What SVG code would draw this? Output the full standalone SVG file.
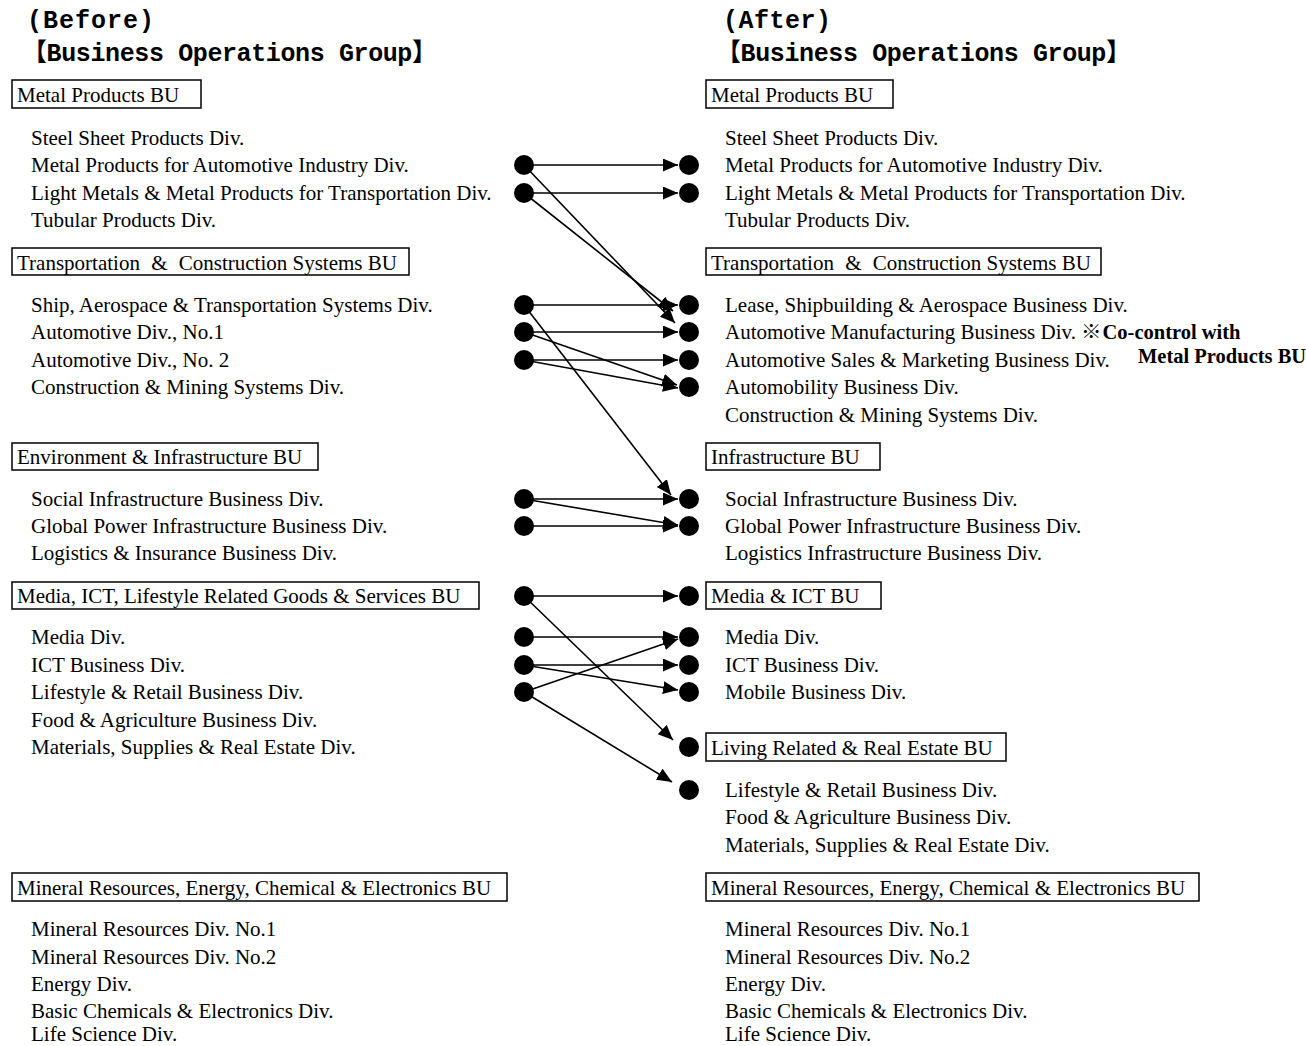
<svg xmlns="http://www.w3.org/2000/svg" width="1306" height="1046" viewBox="0 0 1306 1046">
<defs>
<style>
.hd{font-family:"Liberation Mono","Noto Sans CJK JP",monospace;font-weight:bold;font-size:25px;fill:#000}
.t{font-family:"Liberation Serif","Noto Sans CJK JP",serif;font-size:21px;fill:#000}
.b{font-family:"Liberation Serif","Noto Sans CJK JP",serif;font-size:20.5px;font-weight:bold;fill:#000}
.bx{fill:#fff;stroke:#000;stroke-width:1.5}
.dot{fill:#000}
.ln{stroke:#000;stroke-width:1.6;fill:none;marker-end:url(#ah)}
</style>
<marker id="ah" markerUnits="userSpaceOnUse" markerWidth="16" markerHeight="14" refX="15" refY="6.5" orient="auto">
<path d="M0,0 L15,6.5 L0,13 z" fill="#000"/>
</marker>
</defs>
<rect width="1306" height="1046" fill="#fff"/>

<g id="before-header">
<text class="hd" x="27" y="28" textLength="127" lengthAdjust="spacing">(Before)</text>
<text class="hd" x="22" y="61" textLength="415" lengthAdjust="spacing">【Business Operations Group】</text>
</g>
<g id="after-header">
<text class="hd" x="723" y="28" textLength="108" lengthAdjust="spacing">(After)</text>
<text class="hd" x="716" y="61" textLength="415" lengthAdjust="spacing">【Business Operations Group】</text>
</g>

<g id="before-metal">
<rect class="bx" x="12" y="80" width="189" height="28"/>
<text class="t" x="17" y="102">Metal Products BU</text>
<text class="t" x="31" y="145">Steel Sheet Products Div.</text>
<text class="t" x="31" y="172">Metal Products for Automotive Industry Div.</text>
<text class="t" x="31" y="200">Light Metals &amp; Metal Products for Transportation Div.</text>
<text class="t" x="31" y="227">Tubular Products Div.</text>
</g>
<g id="before-transport">
<rect class="bx" x="12" y="248" width="397" height="27"/>
<text class="t" x="17" y="270">Transportation <tspan dx="6">&amp;</tspan><tspan dx="6"> Construction Systems BU</tspan></text>
<text class="t" x="31" y="312">Ship, Aerospace &amp; Transportation Systems Div.</text>
<text class="t" x="31" y="339">Automotive Div., No.1</text>
<text class="t" x="31" y="367">Automotive Div., No. 2</text>
<text class="t" x="31" y="394">Construction &amp; Mining Systems Div.</text>
</g>
<g id="before-env">
<rect class="bx" x="12" y="443" width="306" height="27"/>
<text class="t" x="17" y="464">Environment &amp; Infrastructure BU</text>
<text class="t" x="31" y="506">Social Infrastructure Business Div.</text>
<text class="t" x="31" y="533">Global Power Infrastructure Business Div.</text>
<text class="t" x="31" y="560">Logistics &amp; Insurance Business Div.</text>
</g>
<g id="before-media">
<rect class="bx" x="12" y="582" width="467" height="27"/>
<text class="t" x="17" y="603">Media, ICT, Lifestyle Related Goods &amp; Services BU</text>
<text class="t" x="31" y="644">Media Div.</text>
<text class="t" x="31" y="672">ICT Business Div.</text>
<text class="t" x="31" y="699">Lifestyle &amp; Retail Business Div.</text>
<text class="t" x="31" y="727">Food &amp; Agriculture Business Div.</text>
<text class="t" x="31" y="754">Materials, Supplies &amp; Real Estate Div.</text>
</g>
<g id="before-mineral">
<rect class="bx" x="12" y="873" width="495" height="28"/>
<text class="t" x="17" y="895">Mineral Resources, Energy, Chemical &amp; Electronics BU</text>
<text class="t" x="31" y="936">Mineral Resources Div. No.1</text>
<text class="t" x="31" y="964">Mineral Resources Div. No.2</text>
<text class="t" x="31" y="991">Energy Div.</text>
<text class="t" x="31" y="1018">Basic Chemicals &amp; Electronics Div.</text>
<text class="t" x="31" y="1041">Life Science Div.</text>
</g>

<g id="after-metal">
<rect class="bx" x="706" y="80" width="187" height="28"/>
<text class="t" x="711" y="102">Metal Products BU</text>
<text class="t" x="725" y="145">Steel Sheet Products Div.</text>
<text class="t" x="725" y="172">Metal Products for Automotive Industry Div.</text>
<text class="t" x="725" y="200">Light Metals &amp; Metal Products for Transportation Div.</text>
<text class="t" x="725" y="227">Tubular Products Div.</text>
</g>
<g id="after-transport">
<rect class="bx" x="706" y="248" width="395" height="27"/>
<text class="t" x="711" y="270">Transportation <tspan dx="6">&amp;</tspan><tspan dx="6"> Construction Systems BU</tspan></text>
<text class="t" x="725" y="312">Lease, Shipbuilding &amp; Aerospace Business Div.</text>
<text class="t" x="725" y="339">Automotive Manufacturing Business Div.</text>
<text class="t" x="725" y="367">Automotive Sales &amp; Marketing Business Div.</text>
<text class="t" x="725" y="394">Automobility Business Div.</text>
<text class="t" x="725" y="422">Construction &amp; Mining Systems Div.</text>
</g>
<g id="co-control-note">
<text class="b" x="1081" y="339">※<tspan dx="1">Co-control with</tspan></text>
<text class="b" x="1138" y="363">Metal Products BU</text>
</g>
<g id="after-infra">
<rect class="bx" x="706" y="443" width="174" height="27"/>
<text class="t" x="711" y="464">Infrastructure BU</text>
<text class="t" x="725" y="506">Social Infrastructure Business Div.</text>
<text class="t" x="725" y="533">Global Power Infrastructure Business Div.</text>
<text class="t" x="725" y="560">Logistics Infrastructure Business Div.</text>
</g>
<g id="after-media">
<rect class="bx" x="706" y="582" width="175" height="27"/>
<text class="t" x="711" y="603">Media &amp; ICT BU</text>
<text class="t" x="725" y="644">Media Div.</text>
<text class="t" x="725" y="672">ICT Business Div.</text>
<text class="t" x="725" y="699">Mobile Business Div.</text>
</g>
<g id="after-living">
<rect class="bx" x="706" y="733" width="300" height="28"/>
<text class="t" x="711" y="755">Living Related &amp; Real Estate BU</text>
<text class="t" x="725" y="797">Lifestyle &amp; Retail Business Div.</text>
<text class="t" x="725" y="824">Food &amp; Agriculture Business Div.</text>
<text class="t" x="725" y="852">Materials, Supplies &amp; Real Estate Div.</text>
</g>
<g id="after-mineral">
<rect class="bx" x="706" y="873" width="493" height="28"/>
<text class="t" x="711" y="895">Mineral Resources, Energy, Chemical &amp; Electronics BU</text>
<text class="t" x="725" y="936">Mineral Resources Div. No.1</text>
<text class="t" x="725" y="964">Mineral Resources Div. No.2</text>
<text class="t" x="725" y="991">Energy Div.</text>
<text class="t" x="725" y="1018">Basic Chemicals &amp; Electronics Div.</text>
<text class="t" x="725" y="1041">Life Science Div.</text>
</g>

<g id="connectors">
<line class="ln" x1="524" y1="165" x2="678" y2="165"/>
<line class="ln" x1="524" y1="165" x2="675" y2="323"/>
<line class="ln" x1="524" y1="193" x2="678" y2="193"/>
<line class="ln" x1="524" y1="193" x2="673" y2="311"/>
<line class="ln" x1="524" y1="305" x2="678" y2="305"/>
<line class="ln" x1="524" y1="305" x2="671" y2="495"/>
<line class="ln" x1="524" y1="332" x2="678" y2="332"/>
<line class="ln" x1="524" y1="332" x2="677" y2="385"/>
<line class="ln" x1="524" y1="360" x2="678" y2="360"/>
<line class="ln" x1="524" y1="360" x2="678" y2="388"/>
<line class="ln" x1="524" y1="499" x2="678" y2="499"/>
<line class="ln" x1="524" y1="499" x2="678" y2="525"/>
<line class="ln" x1="524" y1="526" x2="678" y2="526"/>
<line class="ln" x1="524" y1="596" x2="678" y2="596"/>
<line class="ln" x1="524" y1="596" x2="673" y2="740"/>
<line class="ln" x1="524" y1="637" x2="678" y2="637"/>
<line class="ln" x1="524" y1="665" x2="678" y2="665"/>
<line class="ln" x1="524" y1="665" x2="678" y2="690"/>
<line class="ln" x1="524" y1="692" x2="678" y2="639"/>
<line class="ln" x1="524" y1="692" x2="672" y2="782"/>
</g>

<g id="dots-before">
<circle class="dot" cx="524" cy="165" r="10"/>
<circle class="dot" cx="524" cy="193" r="10"/>
<circle class="dot" cx="524" cy="305" r="10"/>
<circle class="dot" cx="524" cy="332" r="10"/>
<circle class="dot" cx="524" cy="360" r="10"/>
<circle class="dot" cx="524" cy="499" r="10"/>
<circle class="dot" cx="524" cy="526" r="10"/>
<circle class="dot" cx="524" cy="596" r="10"/>
<circle class="dot" cx="524" cy="637" r="10"/>
<circle class="dot" cx="524" cy="665" r="10"/>
<circle class="dot" cx="524" cy="692" r="10"/>
</g>
<g id="dots-after">
<circle class="dot" cx="689" cy="165" r="10"/>
<circle class="dot" cx="689" cy="193" r="10"/>
<circle class="dot" cx="689" cy="305" r="10"/>
<circle class="dot" cx="689" cy="332" r="10"/>
<circle class="dot" cx="689" cy="360" r="10"/>
<circle class="dot" cx="689" cy="387" r="10"/>
<circle class="dot" cx="689" cy="499" r="10"/>
<circle class="dot" cx="689" cy="526" r="10"/>
<circle class="dot" cx="689" cy="596" r="10"/>
<circle class="dot" cx="689" cy="637" r="10"/>
<circle class="dot" cx="689" cy="665" r="10"/>
<circle class="dot" cx="689" cy="692" r="10"/>
<circle class="dot" cx="689" cy="747" r="10"/>
<circle class="dot" cx="689" cy="790" r="10"/>
</g>
</svg>
